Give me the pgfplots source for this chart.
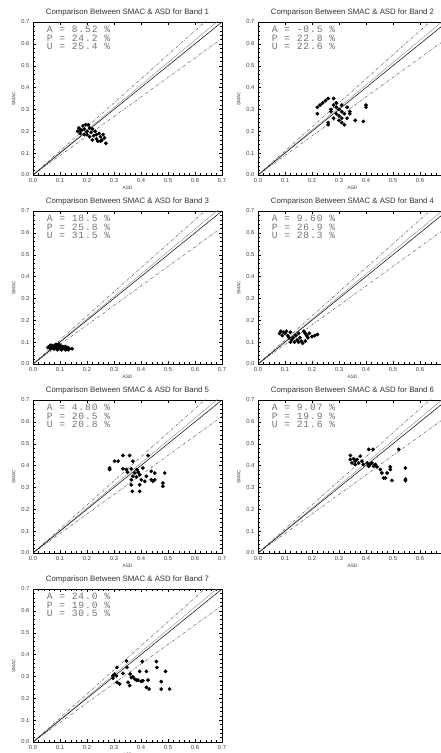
\documentclass[border=0pt]{standalone}
\usepackage{fontspec}
\setmainfont{Liberation Sans}
\newfontfamily\apufont[LetterSpace=10]{Liberation Mono}
\usepackage{pgfplots}
\pgfplotsset{compat=1.18}

\pgfplotsset{
  bandax/.style={
    scale only axis, width=189pt, height=153pt,
    anchor=south west,
    xmin=0, xmax=0.7, ymin=0, ymax=0.7,
    xtick={0,0.1,0.2,0.3,0.4,0.5,0.6,0.7},
    ytick={0,0.1,0.2,0.3,0.4,0.5,0.6,0.7},
    minor tick num=4,
    tick align=inside,
    major tick length=3pt, minor tick length=1.5pt,
    every tick/.style={black, line width=0.4pt},
    axis line style={line width=0.6pt},
    tick label style={font=\fontsize{5.8}{6.5}\selectfont, text=black!75},
    /pgf/number format/assume math mode=true,
    /pgf/number format/.cd, fixed, fixed zerofill, precision=1,
    /pgfplots/.cd,
    xlabel={ASD}, ylabel={SMAC},
    label style={font=\fontsize{4.8}{5}\selectfont, text=black!75},
    xlabel style={yshift=3pt},
    ylabel style={yshift=-1pt},
    title style={font=\fontsize{7.8}{8.5}\selectfont, text=black!80, yshift=-4pt},
  },
  % right column: the page cuts the axis just before 0.7
  rightcol/.style={xticklabels={0.0,0.1,0.2,0.3,0.4,0.5,0.6,{}}},
  pts/.style={only marks, mark=*, mark size=1.7pt, black},
}
% 1:1 line and the reference lines around it
\newcommand{\reflines}{%
  \addplot[black!70, line width=0.4pt, dash pattern=on 3pt off 1.5pt on 0.6pt off 1.5pt] coordinates {(0,0) (0.7,0.77)};
  \addplot[black!70, line width=0.4pt, dash pattern=on 3pt off 1.5pt on 0.6pt off 1.5pt] coordinates {(0,0) (0.7,0.625)};
  \addplot[black!45, line width=0.4pt] coordinates {(0,0) (0.7,0.72)};
  \addplot[black, line width=0.5pt] coordinates {(0,0) (0.7,0.7)};
}
\newcommand{\apu}[3]{%
  \node[anchor=north west, inner sep=0pt, align=left, text=black!55,
        font=\apufont\fontsize{9.6}{8.2}\selectfont]
    at (rel axis cs:0.072,0.972) {A = #1 \%\\P = #2 \%\\U = #3 \%};
}

\begin{document}
\begin{tikzpicture}
% Band 1
\begin{axis}[bandax, at={(33pt,578pt)}, title={Comparison Between SMAC \& ASD for Band 1}]
\reflines
\addplot[pts] coordinates {
(0.165,0.2) (0.17,0.215) (0.175,0.19) (0.18,0.205) (0.185,0.225) (0.19,0.21)
(0.19,0.185) (0.195,0.23) (0.2,0.2) (0.205,0.23) (0.21,0.215) (0.21,0.175)
(0.215,0.195) (0.22,0.16) (0.225,0.18) (0.23,0.2) (0.235,0.185) (0.235,0.165)
(0.24,0.155) (0.245,0.19) (0.25,0.175) (0.255,0.16) (0.26,0.185) (0.265,0.17)
(0.27,0.145) (0.2,0.185) (0.175,0.205) (0.22,0.21) (0.25,0.155)
};
\apu{8.52}{24.2}{25.4}
\end{axis}
% Band 2
\begin{axis}[bandax, rightcol, at={(258pt,578pt)}, title={Comparison Between SMAC \& ASD for Band 2}]
\reflines
\addplot[pts] coordinates {
(0.22,0.28) (0.22,0.31) (0.23,0.32) (0.24,0.33) (0.25,0.34) (0.26,0.35)
(0.27,0.30) (0.27,0.29) (0.28,0.32) (0.28,0.35) (0.29,0.31) (0.29,0.28)
(0.30,0.27) (0.30,0.30) (0.31,0.29) (0.31,0.26) (0.31,0.24) (0.32,0.23)
(0.32,0.28) (0.33,0.26) (0.34,0.28) (0.34,0.29) (0.26,0.23) (0.26,0.24)
(0.29,0.33) (0.30,0.25) (0.36,0.25) (0.39,0.245) (0.40,0.31) (0.40,0.32)
(0.28,0.26) (0.33,0.31) (0.31,0.32)
};
\apu{-0.5}{22.8}{22.6}
\end{axis}
% Band 3
\begin{axis}[bandax, at={(33pt,389pt)}, title={Comparison Between SMAC \& ASD for Band 3}]
\reflines
\addplot[pts] coordinates {
(0.055,0.075) (0.06,0.08) (0.065,0.07) (0.07,0.085) (0.07,0.075) (0.075,0.08)
(0.08,0.07) (0.08,0.085) (0.085,0.09) (0.09,0.08) (0.09,0.065) (0.095,0.075)
(0.1,0.085) (0.1,0.07) (0.105,0.065) (0.11,0.08) (0.11,0.07) (0.115,0.075)
(0.12,0.065) (0.12,0.08) (0.125,0.07) (0.13,0.075) (0.135,0.07) (0.145,0.07)
(0.065,0.085) (0.085,0.075) (0.095,0.09) (0.105,0.08) (0.075,0.07) (0.13,0.065)
};
\apu{18.5}{25.8}{31.5}
\end{axis}
% Band 4
\begin{axis}[bandax, rightcol, at={(258pt,389pt)}, title={Comparison Between SMAC \& ASD for Band 4}]
\reflines
\addplot[pts] coordinates {
(0.08,0.14) (0.085,0.15) (0.09,0.13) (0.095,0.145) (0.1,0.14) (0.105,0.15)
(0.11,0.13) (0.115,0.12) (0.12,0.145) (0.125,0.11) (0.13,0.12) (0.135,0.1)
(0.14,0.13) (0.145,0.11) (0.15,0.1) (0.155,0.12) (0.16,0.105) (0.165,0.095)
(0.17,0.15) (0.175,0.14) (0.18,0.13) (0.185,0.12) (0.19,0.14) (0.2,0.125)
(0.21,0.13) (0.22,0.135) (0.175,0.105) (0.15,0.14) (0.12,0.1)
};
\apu{9.60}{26.9}{28.3}
\end{axis}
% Band 5
\begin{axis}[bandax, at={(33pt,200pt)}, title={Comparison Between SMAC \& ASD for Band 5}]
\reflines
\addplot[pts] coordinates {
(0.284,0.389) (0.284,0.382) (0.302,0.42) (0.315,0.42) (0.333,0.446) (0.358,0.446)
(0.333,0.385) (0.346,0.382) (0.364,0.385) (0.37,0.42) (0.377,0.366) (0.37,0.351)
(0.383,0.348) (0.385,0.382) (0.395,0.358) (0.401,0.335) (0.364,0.335) (0.364,0.312)
(0.368,0.282) (0.395,0.282) (0.407,0.389) (0.414,0.328) (0.42,0.351) (0.426,0.446)
(0.438,0.374) (0.438,0.335) (0.444,0.328) (0.451,0.335) (0.451,0.366) (0.481,0.32)
(0.481,0.305) (0.488,0.366) (0.395,0.312) (0.35,0.37) (0.39,0.37)
};
\apu{4.80}{20.5}{20.8}
\end{axis}
% Band 6
\begin{axis}[bandax, rightcol, at={(258pt,200pt)}, title={Comparison Between SMAC \& ASD for Band 6}]
\reflines
\addplot[pts] coordinates {
(0.342,0.446) (0.342,0.428) (0.348,0.412) (0.354,0.431) (0.36,0.42) (0.367,0.428)
(0.373,0.412) (0.379,0.443) (0.385,0.42) (0.41,0.474) (0.426,0.474) (0.404,0.412)
(0.41,0.397) (0.422,0.412) (0.428,0.397) (0.435,0.405) (0.441,0.394) (0.453,0.382)
(0.459,0.366) (0.465,0.343) (0.472,0.343) (0.478,0.366) (0.49,0.382) (0.49,0.394)
(0.496,0.332) (0.521,0.474) (0.546,0.389) (0.546,0.331) (0.546,0.338) (0.36,0.405)
(0.39,0.405) (0.415,0.405)
};
\apu{9.07}{19.9}{21.6}
\end{axis}
% Band 7
\begin{axis}[bandax, at={(33pt,11pt)}, title={Comparison Between SMAC \& ASD for Band 7}]
\reflines
\addplot[pts] coordinates {
(0.296,0.303) (0.296,0.292) (0.302,0.311) (0.309,0.303) (0.311,0.341) (0.311,0.273)
(0.321,0.265) (0.333,0.314) (0.346,0.371) (0.348,0.341) (0.352,0.273) (0.358,0.258)
(0.36,0.311) (0.364,0.295) (0.37,0.298) (0.377,0.288) (0.383,0.283) (0.389,0.283)
(0.395,0.323) (0.401,0.277) (0.405,0.368) (0.407,0.28) (0.42,0.323) (0.42,0.25)
(0.426,0.283) (0.43,0.242) (0.457,0.368) (0.459,0.341) (0.475,0.276) (0.475,0.242)
(0.491,0.323) (0.506,0.242)
};
\apu{24.0}{19.0}{30.5}
\end{axis}
\pgfresetboundingbox
\useasboundingbox (0,0) rectangle (441pt,753pt);
\end{tikzpicture}
\end{document}
